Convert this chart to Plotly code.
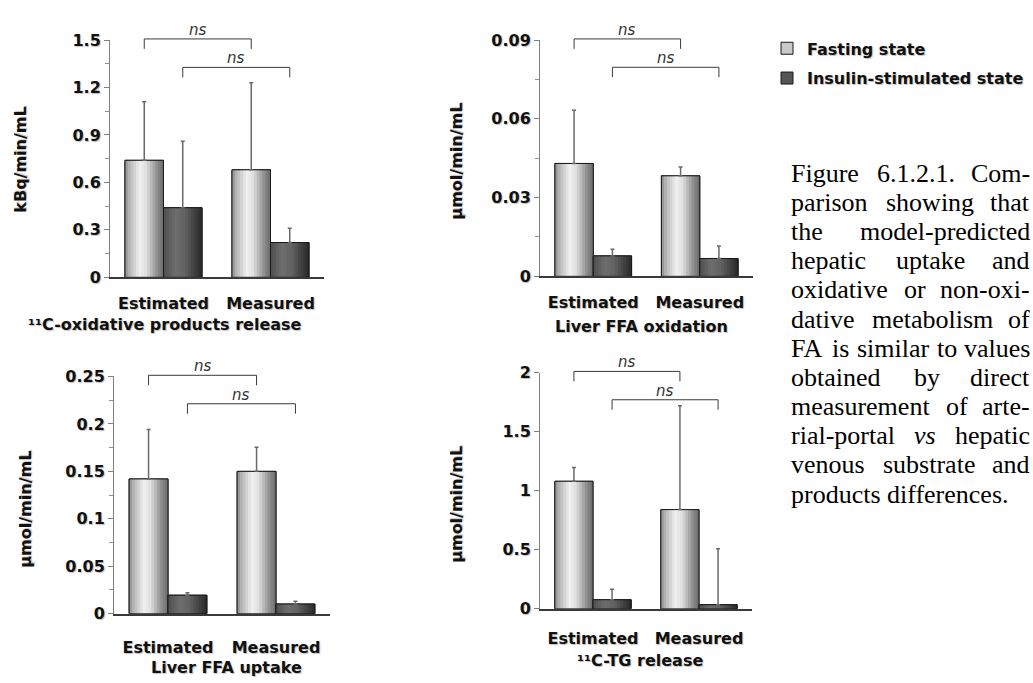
import plotly.graph_objects as go

W, H = 1033, 683

# ---------------- data ----------------
categories = ["Estimated", "Measured"]
legend_names = ["Fasting state", "Insulin-stimulated state"]
sig_labels = ["ns", "ns"]

# 11C-oxidative products release (kBq/min/mL)
oxprod_title = "¹¹C-oxidative products release"
oxprod_unit = "kBq/min/mL"
oxprod_fasting = [0.74, 0.68]
oxprod_fasting_sd = [0.37, 0.55]
oxprod_insulin = [0.44, 0.22]
oxprod_insulin_sd = [0.42, 0.09]
oxprod_ticks = [0, 0.3, 0.6, 0.9, 1.2, 1.5]
oxprod_ticklabels = ["0", "0.3", "0.6", "0.9", "1.2", "1.5"]

# Liver FFA oxidation (umol/min/mL)
ffaox_title = "Liver FFA oxidation"
ffaox_unit = "µmol/min/mL"
ffaox_fasting = [0.043, 0.0383]
ffaox_fasting_sd = [0.0203, 0.0034]
ffaox_insulin = [0.0078, 0.0068]
ffaox_insulin_sd = [0.0025, 0.0048]
ffaox_ticks = [0, 0.03, 0.06, 0.09]
ffaox_ticklabels = ["0", "0.03", "0.06", "0.09"]

# Liver FFA uptake (umol/min/mL)
ffaup_title = "Liver FFA uptake"
ffaup_unit = "µmol/min/mL"
ffaup_fasting = [0.142, 0.150]
ffaup_fasting_sd = [0.052, 0.0255]
ffaup_insulin = [0.0195, 0.0102]
ffaup_insulin_sd = [0.0027, 0.003]
ffaup_ticks = [0, 0.05, 0.1, 0.15, 0.2, 0.25]
ffaup_ticklabels = ["0", "0.05", "0.1", "0.15", "0.2", "0.25"]

# 11C-TG release (umol/min/mL)
tg_title = "¹¹C-TG release"
tg_unit = "µmol/min/mL"
tg_fasting = [1.08, 0.84]
tg_fasting_sd = [0.117, 0.88]
tg_insulin = [0.077, 0.035]
tg_insulin_sd = [0.088, 0.473]
tg_ticks = [0, 0.5, 1, 1.5, 2]
tg_ticklabels = ["0", "0.5", "1", "1.5", "2"]

caption_lines = [
    "Figure 6.1.2.1. Com-",
    "parison showing that",
    "the model-predicted",
    "hepatic uptake and",
    "oxidative or non-oxi-",
    "dative metabolism of",
    "FA is similar to values",
    "obtained by direct",
    "measurement of arte-",
    "rial-portal vs hepatic",
    "venous substrate and",
    "products differences.",
]

# ---------------- layout / style ----------------
SANS = "DejaVu Sans"
SERIF = "Liberation Serif"
SHADOW = "1px 1px 1px rgba(0,0,0,0.25)"

panels = [
    dict(title=oxprod_title, unit=oxprod_unit, f=oxprod_fasting, fsd=oxprod_fasting_sd,
         i=oxprod_insulin, isd=oxprod_insulin_sd, ticks=oxprod_ticks, labels=oxprod_ticklabels,
         minor=True, xpx=(110, 324), ypx=(32, 276), tx=21, ty=155, sx=165, sy=325, stand=11),
    dict(title=ffaox_title, unit=ffaox_unit, f=ffaox_fasting, fsd=ffaox_fasting_sd,
         i=ffaox_insulin, isd=ffaox_insulin_sd, ticks=ffaox_ticks, labels=ffaox_ticklabels,
         minor=True, xpx=(540, 753), ypx=(32, 275), tx=457, ty=157, sx=641, sy=327, stand=11),
    dict(title=ffaup_title, unit=ffaup_unit, f=ffaup_fasting, fsd=ffaup_fasting_sd,
         i=ffaup_insulin, isd=ffaup_insulin_sd, ticks=ffaup_ticks, labels=ffaup_ticklabels,
         minor=True, xpx=(114, 330), ypx=(378, 622), tx=26, ty=515, sx=226, sy=677, stand=18),
    dict(title=tg_title, unit=tg_unit, f=tg_fasting, fsd=tg_fasting_sd,
         i=tg_insulin, isd=tg_insulin_sd, ticks=tg_ticks, labels=tg_ticklabels,
         minor=False, xpx=(540, 752), ypx=(374, 617), tx=457, ty=510, sx=640, sy=670, stand=14),
]

BW = 0.36          # bar width in category units
K = 14             # gradient stripes per bar
fast_stops = [(0, 140), (0.12, 182), (0.38, 240), (0.55, 224), (0.8, 150), (1, 105)]
ins_stops = [(0, 78), (0.3, 110), (0.55, 98), (1, 40)]
legend_colors = ["#c9c9c9", "#555555"]


def grey(stops, t):
    for (t0, g0), (t1, g1) in zip(stops[:-1], stops[1:]):
        if t0 <= t <= t1:
            g = g0 + (g1 - g0) * (t - t0) / (t1 - t0)
            g = int(round(g))
            return f"rgb({g},{g},{g})"
    g = stops[-1][1]
    return f"rgb({g},{g},{g})"


fig = go.Figure()
layout_axes = {}
shapes = []
annotations = []
xcats = list(range(len(categories)))

for pi, p in enumerate(panels):
    n = "" if pi == 0 else str(pi + 1)
    xa, ya = "x" + n, "y" + n
    ymax = p["ticks"][-1]
    for si, (vals, sds, stops) in enumerate([(p["f"], p["fsd"], fast_stops),
                                             (p["i"], p["isd"], ins_stops)]):
        base_off = -BW if si == 0 else 0.0
        # base (legend colour)
        fig.add_trace(go.Bar(
            x=xcats, y=vals, width=BW, offset=base_off, xaxis=xa, yaxis=ya,
            name=legend_names[si], legendgroup=legend_names[si], showlegend=(pi == 0),
            marker=dict(color=legend_colors[si], line=dict(color="#1a1a1a", width=1)),
            hoverinfo="skip"))
        # gradient stripes
        sw = BW / K
        for k in range(K):
            off = base_off + k * sw
            w = min(sw * 1.25, base_off + BW - off)
            fig.add_trace(go.Bar(
                x=xcats, y=vals, width=w, offset=off, xaxis=xa, yaxis=ya,
                showlegend=False, marker=dict(color=grey(stops, (k + 0.5) / K), line=dict(width=0)),
                hoverinfo="skip"))
        # outline + error bars
        fig.add_trace(go.Bar(
            x=xcats, y=vals, width=BW, offset=base_off, xaxis=xa, yaxis=ya,
            showlegend=False, name=legend_names[si],
            marker=dict(color="rgba(0,0,0,0)", line=dict(color="#1a1a1a", width=1)),
            error_y=dict(type="data", symmetric=False, array=sds, arrayminus=[0] * len(sds),
                         color="#6a6a6a", thickness=1.5, width=2)))

    dx = [p["xpx"][0] / W, p["xpx"][1] / W]
    dy = [1 - p["ypx"][1] / H, 1 - p["ypx"][0] / H]
    minor_vals = [(a + b) / 2 for a, b in zip(p["ticks"][:-1], p["ticks"][1:])] if p["minor"] else []
    layout_axes["xaxis" + n] = dict(
        domain=dx, anchor=ya, range=[-0.5, 1.5], tickmode="array", tickvals=xcats,
        ticktext=categories, ticks="", showline=True, linecolor="#3a3a3a", linewidth=1.5,
        showgrid=False, zeroline=False, ticklabelstandoff=p["stand"], fixedrange=True,
        tickfont=dict(family=SANS, size=16, color="#111", weight="bold", shadow=SHADOW))
    layout_axes["yaxis" + n] = dict(
        domain=dy, anchor=xa, range=[0, ymax], tickmode="array", tickvals=p["ticks"],
        ticktext=p["labels"], ticks="outside", ticklen=5, tickcolor="#808080", tickwidth=1,
        showline=True, linecolor="#808080", linewidth=1, showgrid=False, zeroline=False,
        fixedrange=True,
        tickfont=dict(family=SANS, size=16, color="#111", weight="bold", shadow=SHADOW),
        minor=dict(tickvals=minor_vals, ticks="outside", ticklen=4, tickcolor="#909090", showgrid=False))

    # significance brackets (in axis-domain fractions)
    def dom(xv):
        return (xv + 0.5) / 2.0
    b_levels = [1.005, 0.885]
    leg = 0.042
    centers = [[c - BW / 2 for c in xcats], [c + BW / 2 for c in xcats]]
    for bi in range(2):
        x1, x2 = dom(centers[bi][0]), dom(centers[bi][1])
        yb = b_levels[bi]
        shapes.append(dict(
            type="path", xref=xa + " domain", yref=ya + " domain",
            path=f"M{x1},{yb - leg} L{x1},{yb} L{x2},{yb} L{x2},{yb - leg}",
            line=dict(color="#3a3a3a", width=1)))
        annotations.append(dict(
            x=(x1 + x2) / 2, y=yb, xref=xa + " domain", yref=ya + " domain",
            text=sig_labels[bi], showarrow=False, yanchor="bottom", yshift=-2,
            font=dict(family=SANS, size=15, color="#333", style="italic")))

    # y title
    annotations.append(dict(
        x=p["tx"] / W, y=1 - p["ty"] / H, xref="paper", yref="paper", text=p["unit"],
        textangle=-90, showarrow=False, xanchor="center", yanchor="middle",
        font=dict(family=SANS, size=16, color="#111", weight="bold", shadow=SHADOW)))
    # panel subtitle
    annotations.append(dict(
        x=p["sx"] / W, y=1 - p["sy"] / H, xref="paper", yref="paper", text=p["title"],
        showarrow=False, xanchor="center", yanchor="middle",
        font=dict(family=SANS, size=16, color="#111", weight="bold", shadow=SHADOW)))

# ---------------- caption (justified text) ----------------
TW = {
    'a': 444, 'b': 500, 'c': 444, 'd': 500, 'e': 444, 'f': 333, 'g': 500, 'h': 500, 'i': 278,
    'j': 278, 'k': 500, 'l': 278, 'm': 778, 'n': 500, 'o': 500, 'p': 500, 'q': 500, 'r': 333,
    's': 389, 't': 278, 'u': 500, 'v': 500, 'w': 722, 'x': 500, 'y': 500, 'z': 444,
    'A': 722, 'C': 667, 'F': 556, '.': 250, '-': 333, ',': 250,
}
CFS = 26
CL, CR = 790, 1031
CY0, CDY = 169, 30


def word_w(w):
    return sum(TW.get(ch, 500) for ch in w) * CFS / 1000.0


for li, line in enumerate(caption_lines):
    words = line.split(" ")
    widths = [word_w(w) for w in words]
    last = li == len(caption_lines) - 1
    gap = 250 * CFS / 1000.0 if last else (CR - CL - sum(widths)) / (len(words) - 1)
    xpos = CL
    for j, (w, ww) in enumerate(zip(words, widths)):
        txt = "<i>vs</i>" if w == "vs" else w
        is_last_word = (j == len(words) - 1) and not last
        annotations.append(dict(
            x=(CR if is_last_word else xpos) / W, y=1 - (CY0 + CDY * li) / H,
            xref="paper", yref="paper", text=txt,
            showarrow=False, xanchor="right" if is_last_word else "left",
            yanchor="middle", borderpad=0,
            font=dict(family=SERIF, size=CFS, color="#000")))
        xpos += ww + gap

fig.update_layout(
    width=W, height=H, margin=dict(l=0, r=0, t=0, b=0), autosize=False,
    paper_bgcolor="white", plot_bgcolor="white", barmode="overlay",
    showlegend=True,
    legend=dict(x=767 / W, y=1 - 23 / H, xanchor="left", yanchor="top",
                bgcolor="rgba(0,0,0,0)", tracegroupgap=6,
                font=dict(family=SANS, size=16, color="#111", weight="bold", shadow=SHADOW)),
    shapes=shapes, annotations=annotations, **layout_axes)

fig.write_html("out.html", config={"displayModeBar": False},
               post_script="document.body.style.margin='0';")
